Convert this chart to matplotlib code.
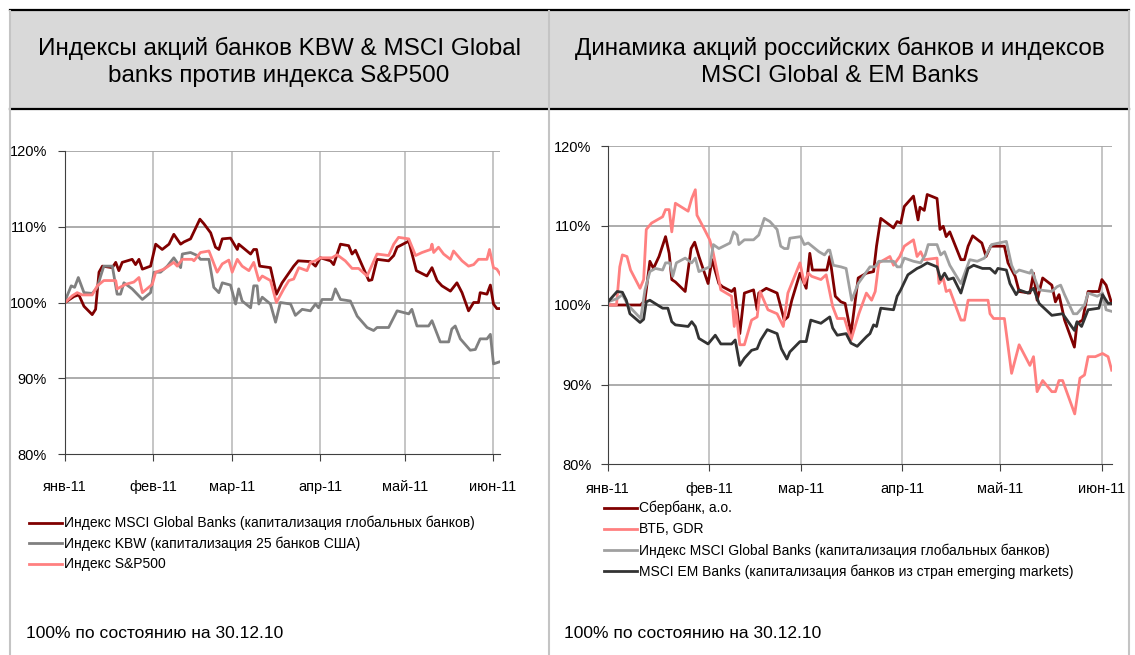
import matplotlib
matplotlib.use("Agg")
import matplotlib.pyplot as plt
from matplotlib.lines import Line2D
from matplotlib.patches import Rectangle

plt.rcParams['font.family'] = ['Liberation Sans', 'DejaVu Sans']

# days counted from 1 Jan 2011, values in % of 30.12.10
month_days = [0, 31, 59, 90, 120, 151]
month_labels = ['янв-11', 'фев-11', 'мар-11', 'апр-11', 'май-11', 'июн-11']

# ---- left chart: KBW & MSCI Global vs S&P500 ----
msci_days = [0, 3.2, 4.9, 6.7, 9.6, 10.8, 12.0, 13.2, 16.7, 17.9, 19.0, 20.2, 23.7, 24.9, 26.1,
             27.3, 30.2, 32.0, 34.3, 36.7, 38.4, 40.8, 42.0, 44.3, 47.6, 49.0, 51.4, 53.1, 54.3,
             55.5, 58.4, 60.8, 61.3, 65.5, 66.6, 67.6, 68.7, 72.5, 74.6, 76.6, 80.7, 82.3, 86.6,
             88.4, 90.1, 93.7, 94.8, 97.2, 100.1, 101.3, 102.5, 107.2, 108.3, 110.1, 114.2,
             116.0, 117.2, 121.3, 124.0, 127.7, 129.5, 131.3, 133.0, 136.0, 138.3, 140.1, 142.4,
             144.2, 145.9, 146.5, 148.9, 150.1, 151.2, 152.4, 153.6]
msci_vals = [100, 100.8, 101.0, 99.5, 98.4, 99.1, 104.0, 104.8, 104.6, 105.3, 104.2, 105.3, 105.7,
             105.0, 105.7, 104.4, 104.8, 107.7, 107.0, 107.7, 109.0, 107.7, 108.0, 108.4, 111.0,
             110.4, 109.2, 107.3, 107.0, 108.4, 108.5, 107.0, 107.7, 106.4, 107.0, 107.0, 104.8,
             104.6, 101.1, 102.6, 104.8, 105.5, 105.4, 104.8, 105.9, 105.5, 105.0, 107.7, 107.5,
             106.4, 106.9, 102.9, 103.0, 105.7, 105.5, 106.2, 107.3, 108.1, 104.2, 103.5, 104.6,
             102.9, 102.2, 101.5, 102.6, 101.3, 98.9, 100.0, 100.0, 101.3, 101.1, 102.3, 99.8,
             99.2, 99.2]

kbw_days = [0, 2.2, 3.4, 4.7, 6.7, 9.6, 11.4, 12.6, 13.7, 16.7, 18.4, 19.6, 20.8, 23.7, 25.5,
            27.3, 30.2, 31.4, 33.7, 36.1, 38.4, 40.8, 41.4, 44.3, 46.7, 47.8, 50.8, 52.5, 54.3,
            55.5, 58.4, 60.2, 61.3, 62.5, 65.5, 66.6, 67.8, 68.4, 69.6, 72.5, 74.3, 76.0, 79.6,
            81.3, 83.7, 86.6, 88.4, 89.5, 90.7, 94.2, 95.4, 97.2, 100.7, 103.1, 106.6, 108.9,
            110.1, 114.2, 117.2, 121.3, 122.4, 124.2, 128.3, 129.5, 132.4, 135.4, 136.5, 137.7,
            139.5, 143.0, 144.8, 146.5, 148.9, 150.1, 151.2, 153.6]
kbw_vals = [100.2, 102.2, 102.0, 103.3, 101.3, 101.2, 102.0, 103.5, 104.8, 104.8, 101.1, 101.1,
            102.6, 101.8, 101.1, 100.4, 101.3, 104.0, 104.0, 104.8, 105.9, 104.6, 106.4, 106.6,
            106.2, 105.7, 105.7, 102.0, 101.3, 102.6, 102.3, 99.8, 101.8, 100.2, 99.3, 102.2,
            102.2, 99.8, 100.7, 99.8, 97.4, 100.0, 99.8, 98.3, 99.1, 98.9, 99.8, 99.3, 100.4,
            100.4, 101.8, 100.4, 100.2, 98.2, 96.7, 96.3, 96.7, 96.7, 98.9, 98.5, 99.1, 96.9,
            96.9, 97.6, 94.8, 94.8, 96.5, 96.9, 95.2, 93.7, 93.8, 95.2, 95.2, 95.8, 91.9, 92.2]

sp_days = [0, 2.6, 4.3, 6.1, 9.6, 11.4, 13.7, 17.9, 18.4, 21.4, 24.3, 26.1, 27.3, 30.8, 32.0,
           34.9, 38.4, 39.6, 41.4, 44.9, 45.5, 47.8, 50.8, 53.7, 55.5, 57.8, 59.0, 60.8, 62.5,
           64.9, 66.6, 68.4, 69.6, 72.5, 74.6, 77.2, 79.0, 80.7, 82.5, 85.4, 86.6, 88.4, 90.1,
           94.2, 96.0, 98.9, 101.3, 103.6, 106.6, 110.1, 114.2, 116.0, 117.7, 121.3, 123.7,
           126.0, 129.0, 129.5, 130.1, 131.8, 133.6, 136.0, 137.1, 140.1, 142.4, 144.2, 145.9,
           148.9, 149.8, 151.2, 152.4, 153.6]
sp_vals = [100, 100.9, 101.3, 101.0, 101.0, 102.2, 102.9, 102.9, 101.8, 102.4, 102.7, 103.3,
           101.3, 102.4, 104.0, 104.4, 105.3, 104.8, 105.7, 105.7, 105.5, 106.6, 106.8, 104.0,
           105.1, 105.6, 104.0, 105.7, 104.8, 104.2, 105.3, 102.9, 103.5, 102.9, 100.0, 101.8,
           102.9, 103.1, 104.6, 104.2, 105.3, 105.5, 105.9, 105.9, 106.3, 105.5, 104.5, 104.5,
           103.5, 106.4, 106.2, 107.7, 108.6, 108.4, 106.2, 106.6, 107.0, 107.7, 106.6, 107.3,
           106.4, 105.7, 106.8, 105.5, 104.8, 105.0, 105.7, 105.7, 107.0, 104.6, 104.4, 103.7]

# ---- right chart: Russian banks vs MSCI Global & EM Banks ----
sber_days = [0, 2.8, 10.0, 11.3, 12.8, 13.9, 15.6, 17.6, 18.7, 19.5, 20.6, 23.6, 25.4, 26.5,
             27.8, 30.6, 31.8, 33.9, 35.0, 37.8, 38.7, 40.3, 41.7, 44.5, 45.6, 46.1, 48.4, 51.7,
             53.9, 55.0, 56.2, 58.7, 60.6, 61.7, 62.5, 66.9, 67.8, 69.5, 71.2, 72.5, 74.3, 76.5,
             79.0, 81.2, 82.1, 83.4, 87.3, 88.4, 89.5, 90.6, 93.4, 94.8, 95.4, 96.7, 97.6, 100.6,
             101.5, 102.5, 103.4, 104.5, 107.9, 109.0, 110.1, 111.5, 114.3, 115.6, 117.0, 121.2,
             122.3, 124.5, 125.7, 129.0, 130.1, 131.2, 132.9, 135.7, 136.8, 137.9, 139.6, 142.6,
             143.4, 145.1, 146.8, 150.1, 151.0, 152.3, 154.0]
sber_vals = [100, 100, 100, 100.6, 105.5, 104.6, 106.1, 108.6, 106.5, 103.2, 102.9, 101.7, 107.1,
             107.9, 106.1, 102.7, 105.7, 102.7, 102.3, 101.7, 102.1, 96.4, 101.5, 101.9, 99.4,
             101.5, 102.1, 101.5, 98.1, 98.5, 100.6, 104.0, 102.1, 106.5, 104.4, 104.4, 106.1,
             101.1, 100.4, 100.2, 96.4, 103.4, 104.0, 104.2, 107.4, 110.9, 109.7, 110.5, 110.3,
             112.4, 113.7, 110.7, 112.3, 111.9, 113.9, 113.4, 109.5, 109.9, 108.6, 109.2, 105.7,
             105.7, 107.4, 108.7, 107.8, 106.1, 107.4, 107.4, 105.3, 103.6, 101.7, 101.5, 104.0,
             100.6, 103.4, 102.5, 100.4, 101.3, 98.1, 94.7, 97.7, 98.1, 101.7, 101.7, 103.2,
             102.5, 100.2]

vtb_days = [0, 2.6, 3.6, 4.4, 5.8, 6.9, 9.8, 10.9, 11.7, 13.3, 16.7, 17.6, 18.7, 19.5, 20.6,
            24.5, 25.6, 26.7, 27.2, 29.5, 31.1, 32.0, 34.5, 37.8, 38.6, 39.1, 40.3, 41.7, 43.9,
            45.6, 46.5, 48.9, 51.7, 53.6, 55.0, 58.7, 60.0, 61.2, 62.3, 65.1, 66.7, 68.7, 70.1,
            72.3, 74.3, 76.7, 79.0, 80.6, 81.7, 82.8, 86.2, 87.3, 89.2, 90.6, 93.4, 94.5, 95.6,
            96.7, 100.6, 101.2, 102.5, 103.4, 104.5, 107.9, 109.0, 110.1, 112.9, 116.2, 116.8,
            117.9, 121.2, 123.4, 125.7, 129.0, 130.1, 131.2, 132.9, 135.7, 136.8, 137.9, 139.0,
            142.7, 144.3, 145.7, 146.8, 149.0, 150.1, 151.2, 152.9, 154.0]
vtb_vals = [100, 100, 104.8, 106.3, 106.1, 104.4, 102.1, 103.2, 109.5, 110.3, 111.1, 112.0, 112.0,
            109.2, 112.8, 111.8, 113.4, 114.5, 111.3, 109.5, 108.2, 106.9, 101.9, 101.1, 97.3,
            99.4, 95.0, 95.0, 98.1, 98.5, 101.7, 99.4, 98.9, 97.3, 101.5, 105.3, 102.7, 104.0,
            103.6, 103.2, 103.8, 99.8, 98.3, 98.3, 95.6, 98.9, 101.5, 100.6, 101.7, 105.3, 106.1,
            105.0, 106.1, 107.4, 108.2, 106.1, 106.7, 105.7, 105.9, 102.7, 103.4, 101.7, 101.9,
            98.1, 98.1, 100.6, 100.6, 100.6, 98.9, 98.3, 98.3, 91.4, 95.0, 92.4, 93.5, 89.1, 90.5,
            89.1, 89.1, 90.5, 90.5, 86.3, 90.8, 91.2, 93.5, 93.5, 93.7, 93.9, 93.5, 91.8]

glob_days = [0, 2.8, 4.4, 6.1, 10.0, 11.3, 12.8, 14.5, 16.7, 17.6, 18.9, 19.8, 20.9, 23.6, 25.6,
             26.7, 27.8, 30.0, 31.1, 32.2, 33.9, 37.3, 38.4, 39.5, 40.0, 41.7, 44.5, 46.1, 47.8,
             49.5, 51.7, 52.8, 53.9, 55.0, 55.6, 58.9, 60.0, 61.2, 64.5, 66.2, 67.3, 67.8, 68.9,
             71.2, 72.8, 74.5, 76.5, 80.1, 81.7, 82.8, 87.3, 88.4, 89.5, 90.6, 93.4, 95.6, 97.0,
             97.9, 100.6, 101.7, 102.9, 104.5, 107.9, 110.6, 112.9, 115.1, 117.3, 121.8, 123.4,
             124.5, 125.7, 129.0, 129.5, 131.8, 135.7, 137.3, 138.4, 139.6, 142.3, 143.4, 145.7,
             146.8, 149.6, 151.2, 152.3, 154.0]
glob_vals = [100.4, 100.8, 101.3, 100.0, 98.3, 101.9, 104.2, 104.6, 104.4, 105.3, 105.3, 103.6,
             105.3, 105.9, 105.3, 105.9, 104.2, 104.6, 104.8, 107.6, 107.1, 107.8, 109.2, 108.8,
             107.6, 108.2, 108.2, 108.8, 110.9, 110.5, 109.5, 107.4, 107.1, 107.1, 108.4, 108.6,
             107.6, 107.8, 106.7, 106.3, 106.9, 106.9, 105.0, 104.8, 104.6, 100.6, 102.7, 104.8,
             104.8, 105.5, 105.5, 104.8, 104.8, 105.9, 105.5, 105.3, 106.3, 107.6, 107.6, 106.3,
             106.7, 105.0, 102.7, 105.7, 105.5, 105.9, 107.6, 108.0, 105.0, 104.0, 104.4, 104.0,
             104.4, 101.9, 101.7, 102.3, 102.5, 101.3, 98.9, 98.9, 100.0, 101.5, 101.1, 101.5,
             99.4, 99.2]

em_days = [0, 2.8, 4.4, 5.6, 6.7, 9.8, 10.9, 11.7, 12.8, 16.7, 18.3, 19.5, 20.6, 24.5, 25.6,
           26.7, 27.8, 30.6, 32.8, 34.5, 37.8, 38.9, 40.3, 41.7, 43.9, 45.6, 46.7, 48.7, 51.7,
           53.0, 54.7, 55.6, 58.7, 60.6, 62.0, 65.1, 67.8, 68.7, 70.1, 72.8, 74.3, 76.2, 79.0,
           80.1, 81.2, 82.1, 83.4, 87.3, 88.4, 89.5, 91.7, 94.5, 95.6, 97.6, 100.6, 101.7, 102.9,
           104.0, 105.6, 107.9, 110.1, 111.8, 114.5, 116.8, 118.4, 119.2, 121.8, 122.9, 124.8,
           125.7, 128.4, 130.1, 131.8, 135.7, 139.0, 142.6, 143.4, 144.8, 146.8, 150.1, 151.2,
           152.9, 154.0]
em_vals = [100.4, 101.7, 101.6, 100.6, 98.9, 97.8, 98.2, 100.4, 100.6, 99.6, 99.6, 97.9, 97.5,
           97.3, 97.9, 97.3, 95.8, 95.1, 96.2, 95.1, 95.1, 95.6, 92.4, 93.3, 94.3, 94.5, 95.6,
           96.9, 96.4, 94.5, 93.2, 94.1, 95.4, 95.4, 98.1, 97.7, 98.5, 97.1, 96.2, 96.4, 95.2,
           94.8, 96.0, 96.4, 97.5, 97.3, 99.6, 99.4, 101.1, 101.9, 103.8, 104.6, 104.8, 105.3,
           104.8, 103.2, 104.0, 103.2, 103.4, 101.5, 104.6, 105.0, 104.6, 104.6, 104.0, 104.6,
           104.4, 102.7, 101.3, 101.9, 101.5, 102.1, 100.2, 98.7, 98.9, 96.8, 97.9, 97.3, 99.4,
           99.6, 101.3, 100.2, 100.2]

left_title = 'Индексы акций банков KBW & MSCI Global\nbanks против индекса S&P500'
right_title = 'Динамика акций российских банков и индексов\nMSCI Global & EM Banks'
note = '100% по состоянию на 30.12.10'

W, H = 1135, 655
fig = plt.figure(figsize=(W / 100, H / 100), dpi=100)


def fx(px):
    return px / W


def fy(py):
    return 1 - py / H


# header band and panel frames
fig.patches.append(Rectangle((fx(10), fy(109)), fx(1119), 98 / H, transform=fig.transFigure,
                             facecolor='#d9d9d9', edgecolor='none', zorder=0))
for yy in (10, 109):
    fig.add_artist(Line2D([fx(10), fx(1129)], [fy(yy), fy(yy)], color='black', lw=1.6,
                          transform=fig.transFigure))
for xx in (10, 549, 1129):
    fig.add_artist(Line2D([fx(xx), fx(xx)], [fy(11), 0], color='#c4c4c4', lw=1.5,
                          transform=fig.transFigure))

fig.text(fx(279), fy(62), left_title, ha='center', va='center', fontsize=17.5, linespacing=1.25)
fig.text(fx(840), fy(62), right_title, ha='center', va='center', fontsize=17.5, linespacing=1.25)
fig.text(fx(26), fy(634), note, ha='left', va='center', fontsize=12.5)
fig.text(fx(564), fy(634), note, ha='left', va='center', fontsize=12.5)


def setup(ax, xmax, ypad, xpad):
    ax.set_xlim(0, xmax)
    ax.set_ylim(80, 120)
    ax.set_yticks([80, 90, 100, 110, 120])
    ax.set_yticklabels(['80%', '90%', '100%', '110%', '120%'])
    ax.set_xticks(month_days)
    ax.set_xticklabels(month_labels)
    for d in month_days[1:]:
        ax.axvline(d, color='#c0c0c0', lw=1.3, zorder=1)
    for v in (90, 100, 110, 120):
        ax.axhline(v, color='#a6a6a6', lw=1.3, zorder=1)
    for s in ('top', 'right'):
        ax.spines[s].set_visible(False)
    ax.spines['left'].set_color('#404040')
    ax.spines['bottom'].set_color('#404040')
    ax.tick_params(axis='y', length=5, labelsize=10.5, colors='#404040', labelcolor='black', pad=ypad)
    ax.tick_params(axis='x', length=5, labelsize=10.5, colors='#404040', labelcolor='black', pad=xpad)
    ax.set_facecolor('none')


axl = fig.add_axes([fx(65), fy(454), fx(435), 303 / H])
setup(axl, 153.5, 8, 14)
axl.plot(msci_days, msci_vals, color='#800000', lw=2, label='Индекс MSCI Global Banks (капитализация глобальных банков)')
axl.plot(kbw_days, kbw_vals, color='#808080', lw=2, label='Индекс KBW (капитализация 25 банков США)')
axl.plot(sp_days, sp_vals, color='#ff8080', lw=2, label='Индекс S&P500')
axl.legend(loc='upper left', bbox_to_anchor=(fx(29), fy(516)), bbox_transform=fig.transFigure,
           frameon=False, handlelength=2.4, handletextpad=0.15, labelspacing=0.45,
           borderaxespad=0, borderpad=0, prop={'size': 10})

axr = fig.add_axes([fx(608), fy(464), fx(504), 318 / H])
setup(axr, 154.1, 7, 8)
axr.plot(sber_days, sber_vals, color='#800000', lw=2, label='Сбербанк, а.о.')
axr.plot(vtb_days, vtb_vals, color='#ff8080', lw=2, label='ВТБ, GDR')
axr.plot(glob_days, glob_vals, color='#a0a0a0', lw=2, label='Индекс MSCI Global Banks (капитализация глобальных банков)')
axr.plot(em_days, em_vals, color='#333333', lw=2, label='MSCI EM Banks (капитализация банков из стран emerging markets)')
axr.legend(loc='upper left', bbox_to_anchor=(fx(604), fy(501)), bbox_transform=fig.transFigure,
           frameon=False, handlelength=2.4, handletextpad=0.15, labelspacing=0.5,
           borderaxespad=0, borderpad=0, prop={'size': 10})

fig.savefig('out.png', dpi=100)
